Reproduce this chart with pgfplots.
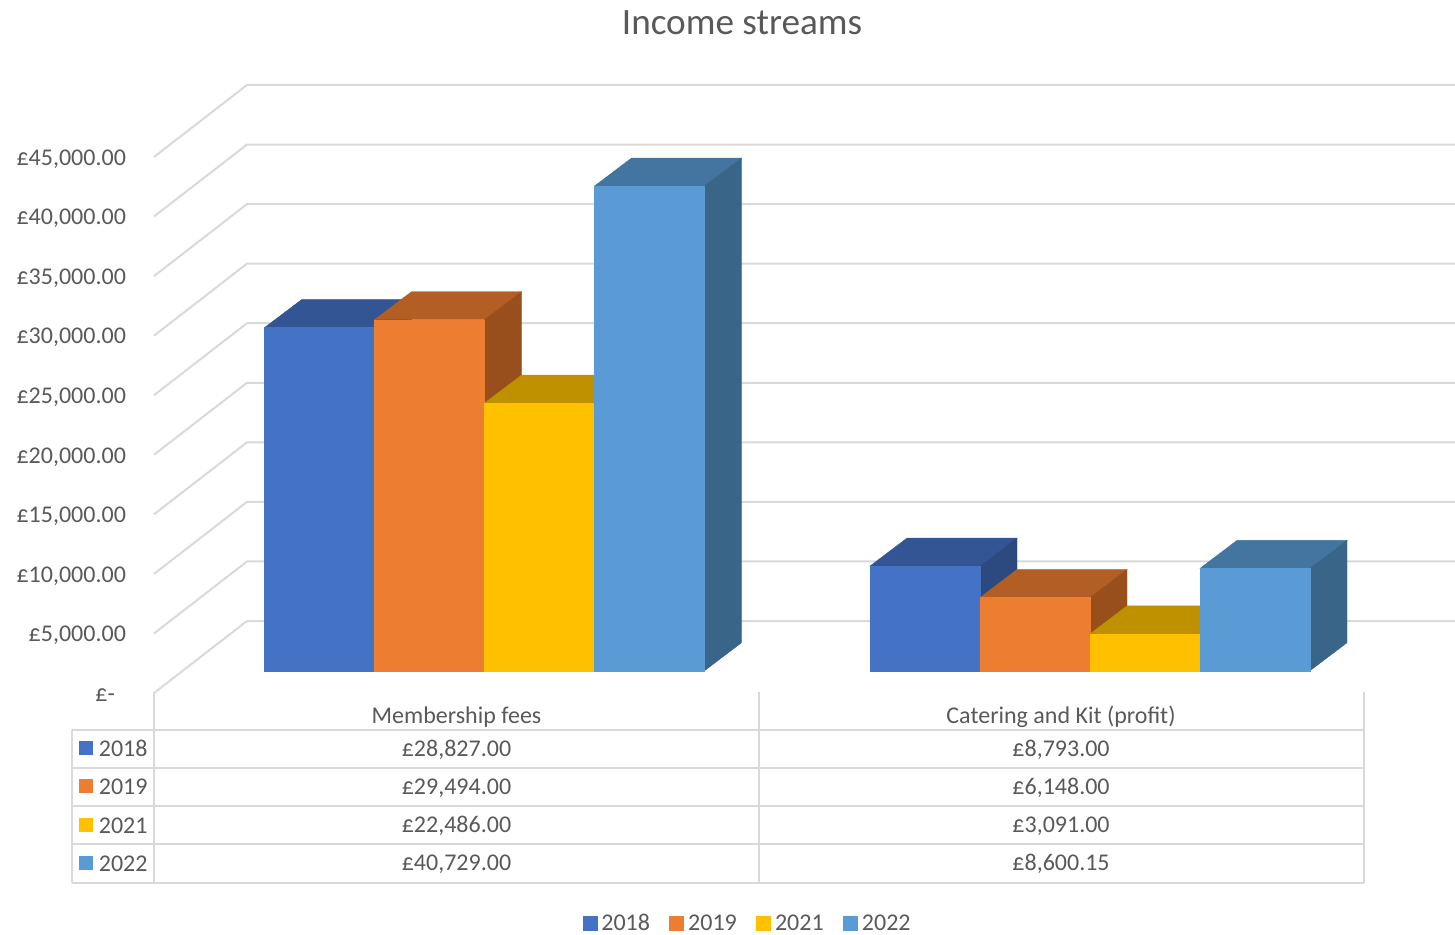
\documentclass[border=0pt]{standalone}
\usepackage{fontspec}
\setmainfont{Carlito}
\usepackage{pgfplots}
\pgfplotsset{compat=1.18}
\definecolor{txt}{HTML}{595959}
\definecolor{gridc}{HTML}{D9D9D9}
\definecolor{bluef}{HTML}{4472C4}
\definecolor{bluet}{HTML}{335593}
\definecolor{blues}{HTML}{2C4A80}
\definecolor{orangef}{HTML}{ED7D31}
\definecolor{oranget}{HTML}{B25E24}
\definecolor{oranges}{HTML}{984F1B}
\definecolor{yellowf}{HTML}{FFC000}
\definecolor{yellowt}{HTML}{BF9000}
\definecolor{yellows}{HTML}{A67C00}
\definecolor{skyf}{HTML}{5B9BD5}
\definecolor{skyt}{HTML}{4475A0}
\definecolor{skys}{HTML}{396588}

% x0, x1, x0+depth, x1+depth, value, value+depth, colour prefix
\newcommand{\threedbar}[7]{
 \addplot[draw=#7t,line width=0.2pt,fill=#7t,forget plot] coordinates {(#1,#5)(#2,#5)(#4,#6)(#3,#6)} --cycle;
 \addplot[draw=#7s,line width=0.2pt,fill=#7s,forget plot] coordinates {(#2,0)(#4,2353)(#4,#6)(#2,#5)} --cycle;
 \addplot[draw=#7f,line width=0.2pt,fill=#7f,forget plot] coordinates {(#1,0)(#2,0)(#2,#5)(#1,#5)} --cycle;
}
% left value, back value
\newcommand{\wallline}[2]{
 \addplot[draw=gridc,line width=1pt,forget plot] coordinates {(154,#1)(247,#2)(1455,#2)};
}
\newcommand{\tablekey}[3]{
 \fill[#3] (79,#1-7) rectangle (93,#1+7);
 \node[anchor=base west,inner sep=0pt] at (98.5,#1+8) {#2};
}
\newcommand{\tablecell}[3]{
 \node[anchor=base,inner sep=0pt] at (#1,#2) {#3};
}
\newcommand{\legstrut}{\rule[-0.5pt]{0pt}{8.5pt}}

\begin{document}
\begin{tikzpicture}[x=0.5pt,y=-0.5pt,font=\fontsize{12pt}{14pt}\selectfont,text=txt]
\path[use as bounding box] (0,0) rectangle (1455,934);
\node at (742,23) {\fontsize{18.6pt}{22pt}\selectfont Income streams};

\begin{axis}[
  at={(77pt,-346.85pt)},anchor=south west,
  scale only axis,width=650.5pt,height=316.5pt,
  xmin=154,xmax=1455,ymin=-1933,ymax=51261,
  clip=false,axis line style={draw=none},major tick length=0pt,
  scaled y ticks=false,
  ytick={-1874,3131,8136,13141,18146,23151,28156,33161,38166,43171},
  yticklabels={{\pounds-\rule{5.5pt}{0pt}},{\pounds5,000.00},{\pounds10,000.00},{\pounds15,000.00},{\pounds20,000.00},{\pounds25,000.00},{\pounds30,000.00},{\pounds35,000.00},{\pounds40,000.00},{\pounds45,000.00}},
  yticklabel style={anchor=east,xshift=-10.5pt,yshift=-1pt,font=\fontsize{12pt}{14pt}\selectfont,text=txt},
  xtick={456.5,1061},
  xticklabels={Membership fees,Catering and Kit (profit)},
  xticklabel style={anchor=center,yshift=-11.5pt,font=\fontsize{12pt}{14pt}\selectfont,text=txt},
  legend columns=4,
  legend cell align=left,
  legend style={at={(0.4570,-0.3633)},anchor=center,draw=none,fill=none,
    font=\fontsize{12pt}{14pt}\selectfont,text=txt,inner sep=0pt,
    /tikz/every even column/.append style={column sep=7.7pt}},
  legend image code/.code={\fill[#1] (0pt,-3.5pt) rectangle (7pt,3.5pt);},
]
\wallline{-1874}{4177}
\wallline{3131}{9182}
\wallline{8136}{14187}
\wallline{13141}{19192}
\wallline{18146}{24197}
\wallline{23151}{29202}
\wallline{28156}{34207}
\wallline{33161}{39212}
\wallline{38166}{44217}
\wallline{43171}{49222}

\threedbar{264.5}{374.5}{301.5}{411.5}{28827}{31180}{blue}
\threedbar{374.5}{484.5}{411.5}{521.5}{29494}{31847}{orange}
\threedbar{484.5}{594.5}{521.5}{631.5}{22486}{24839}{yellow}
\threedbar{594.5}{704.5}{631.5}{741.5}{40729}{43082}{sky}
\threedbar{870}{980}{907}{1017}{8793}{11146}{blue}
\threedbar{980}{1090}{1017}{1127}{6148}{8501}{orange}
\threedbar{1090}{1200}{1127}{1237}{3091}{5444}{yellow}
\threedbar{1200}{1310}{1237}{1347}{8600.15}{10953.15}{sky}

\addlegendimage{bluef}\addlegendentry{\legstrut 2018}
\addlegendimage{orangef}\addlegendentry{\legstrut 2019}
\addlegendimage{yellowf}\addlegendentry{\legstrut 2021}
\addlegendimage{skyf}\addlegendentry{\legstrut 2022}
\end{axis}

% data table under the plot
\draw[gridc,line width=1pt]
  (71.5,729.5) -- (1363.5,729.5) (71.5,767.5) -- (1363.5,767.5)
  (71.5,806) -- (1363.5,806) (71.5,844) -- (1363.5,844)
  (71.5,882.5) -- (1363.5,882.5)
  (71.5,729.5) -- (71.5,882.5) (154,692) -- (154,882.5)
  (759,692) -- (759,882.5) (1363.5,692) -- (1363.5,882.5);
\tablekey{748}{2018}{bluef}
\tablekey{786}{2019}{orangef}
\tablekey{825}{2021}{yellowf}
\tablekey{863}{2022}{skyf}
\tablecell{456.5}{756}{\pounds28,827.00}
\tablecell{456.5}{794}{\pounds29,494.00}
\tablecell{456.5}{832}{\pounds22,486.00}
\tablecell{456.5}{870}{\pounds40,729.00}
\tablecell{1061}{756}{\pounds8,793.00}
\tablecell{1061}{794}{\pounds6,148.00}
\tablecell{1061}{832}{\pounds3,091.00}
\tablecell{1061}{870}{\pounds8,600.15}
\end{tikzpicture}
\end{document}
